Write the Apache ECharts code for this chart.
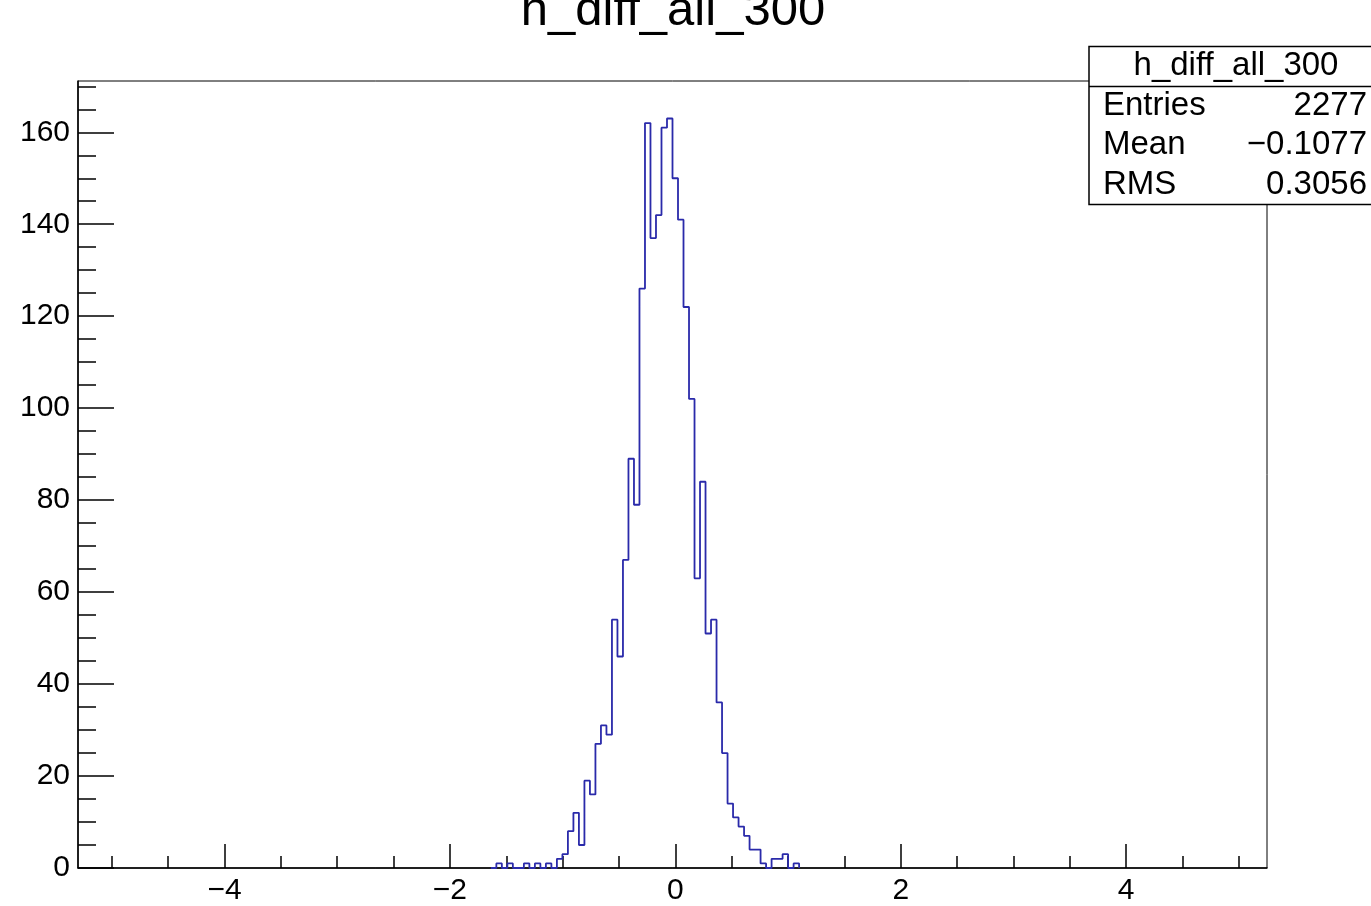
<!DOCTYPE html>
<html>
<head>
<meta charset="utf-8">
<script src="https://cdn.jsdelivr.net/npm/echarts@6/dist/echarts.min.js"></script>
<style>
html,body{margin:0;padding:0;background:#fff;}
#chart{width:1371px;height:906px;}
</style>
</head>
<body>
<div id="chart"></div>
<script>
// ---- data ----
const histTitle = 'h_diff_all_300';
const xLow = -5.3, xHigh = 5.25, nBins = 216;   // histogram axis definition
const firstBin = 75;                              // index of first listed bin
const counts = [0,1,0,1,0,0,1,0,1,0,1,0,2,3,8,12,5,19,16,27,31,29,54,46,67,89,79,126,
  162,137,142,161,163,150,141,122,102,63,84,51,54,36,25,14,11,9,7,4,4,1,0,2,2,3,0,1,0];
const statLabels = ['Entries','Mean','RMS'];
const statValues = ['2277','\u22120.1077','0.3056'];
const xMajorTicks = [-4,-2,0,2,4];
const xMinorTicks = [-5,-4.5,-3.5,-3,-2.5,-1.5,-1,-0.5,0.5,1,1.5,2.5,3,3.5,4.5,5];
const yMajorTicks = [0,20,40,60,80,100,120,140,160];
const yMinorTicks = [5,10,15,25,30,35,45,50,55,65,70,75,85,90,95,105,110,115,125,130,135,145,150,155,165,170];
const yMax = 171.15;

// ---- build ----
const binW = (xHigh - xLow) / nBins;
const points = counts.map((c, i) => [xLow + (firstBin + i) * binW, c]);

const FONT = 'Liberation Sans, Arial, Helvetica, sans-serif';
const fmt = v => (v < 0 ? '\u2212' + Math.abs(v) : String(v));

const chart = echarts.init(document.getElementById('chart'), null, {renderer: 'canvas'});
const grid = {left: 78, right: 104, top: 81, bottom: 36, show: true, borderColor: '#000', borderWidth: 1, backgroundColor: 'transparent'};

const baseAxis = {
  type: 'value', splitLine: {show: false}, minorTick: {show: false}
};

chart.setOption({
  animation: false,
  backgroundColor: '#fff',
  grid: grid,
  xAxis: [
    Object.assign({}, baseAxis, {
      min: xLow, max: xHigh, position: 'bottom',
      axisLine: {show: true, onZero: false, lineStyle: {color: '#000', width: 1.5}},
      axisTick: {show: true, inside: true, length: 24, customValues: xMajorTicks, lineStyle: {color: '#000', width: 1.5}},
      axisLabel: {show: true, customValues: xMajorTicks, formatter: fmt, color: '#000', fontSize: 30, fontFamily: FONT, margin: 8}
    }),
    Object.assign({}, baseAxis, {
      min: xLow, max: xHigh, position: 'bottom',
      axisLine: {show: false, onZero: false},
      axisTick: {show: true, inside: true, length: 12, customValues: xMinorTicks, lineStyle: {color: '#000', width: 1.5}},
      axisLabel: {show: false}
    })
  ],
  yAxis: [
    Object.assign({}, baseAxis, {
      min: 0, max: yMax, position: 'left',
      axisLine: {show: true, onZero: false, lineStyle: {color: '#000', width: 1.5}},
      axisTick: {show: true, inside: true, length: 36, customValues: yMajorTicks, lineStyle: {color: '#000', width: 1.5}},
      axisLabel: {show: true, customValues: yMajorTicks, color: '#000', fontSize: 30, fontFamily: FONT, margin: 8}
    }),
    Object.assign({}, baseAxis, {
      min: 0, max: yMax, position: 'left',
      axisLine: {show: false, onZero: false},
      axisTick: {show: true, inside: true, length: 18, customValues: yMinorTicks, lineStyle: {color: '#000', width: 1.5}},
      axisLabel: {show: false}
    })
  ],
  series: [{
    type: 'line', xAxisIndex: 0, yAxisIndex: 0,
    data: points, step: 'end', symbol: 'none',
    lineStyle: {color: '#2a2aaa', width: 1.8},
    z: 1
  }],
  graphic: [
    {type: 'text', z: 100, style: {text: histTitle, x: 673, y: 11, align: 'center', verticalAlign: 'middle', font: '49px ' + FONT, fill: '#000'}},
    {type: 'rect', z: 100, shape: {x: 1089, y: 46.5, width: 300, height: 158}, style: {fill: '#fff', stroke: '#000', lineWidth: 1.5}},
    {type: 'line', z: 101, shape: {x1: 1089, y1: 86.5, x2: 1371, y2: 86.5}, style: {stroke: '#000', lineWidth: 1.5}},
    {type: 'text', z: 102, style: {text: histTitle, x: 1236, y: 66, align: 'center', verticalAlign: 'middle', font: '33px ' + FONT, fill: '#000'}},
    {type: 'text', z: 102, style: {text: statLabels[0], x: 1103, y: 106, align: 'left', verticalAlign: 'middle', font: '33px ' + FONT, fill: '#000'}},
    {type: 'text', z: 102, style: {text: statLabels[1], x: 1103, y: 145, align: 'left', verticalAlign: 'middle', font: '33px ' + FONT, fill: '#000'}},
    {type: 'text', z: 102, style: {text: statLabels[2], x: 1103, y: 185, align: 'left', verticalAlign: 'middle', font: '33px ' + FONT, fill: '#000'}},
    {type: 'text', z: 102, style: {text: statValues[0], x: 1367, y: 106, align: 'right', verticalAlign: 'middle', font: '33px ' + FONT, fill: '#000'}},
    {type: 'text', z: 102, style: {text: statValues[1], x: 1367, y: 145, align: 'right', verticalAlign: 'middle', font: '33px ' + FONT, fill: '#000'}},
    {type: 'text', z: 102, style: {text: statValues[2], x: 1367, y: 185, align: 'right', verticalAlign: 'middle', font: '33px ' + FONT, fill: '#000'}}
  ]
});
</script>
</body>
</html>
